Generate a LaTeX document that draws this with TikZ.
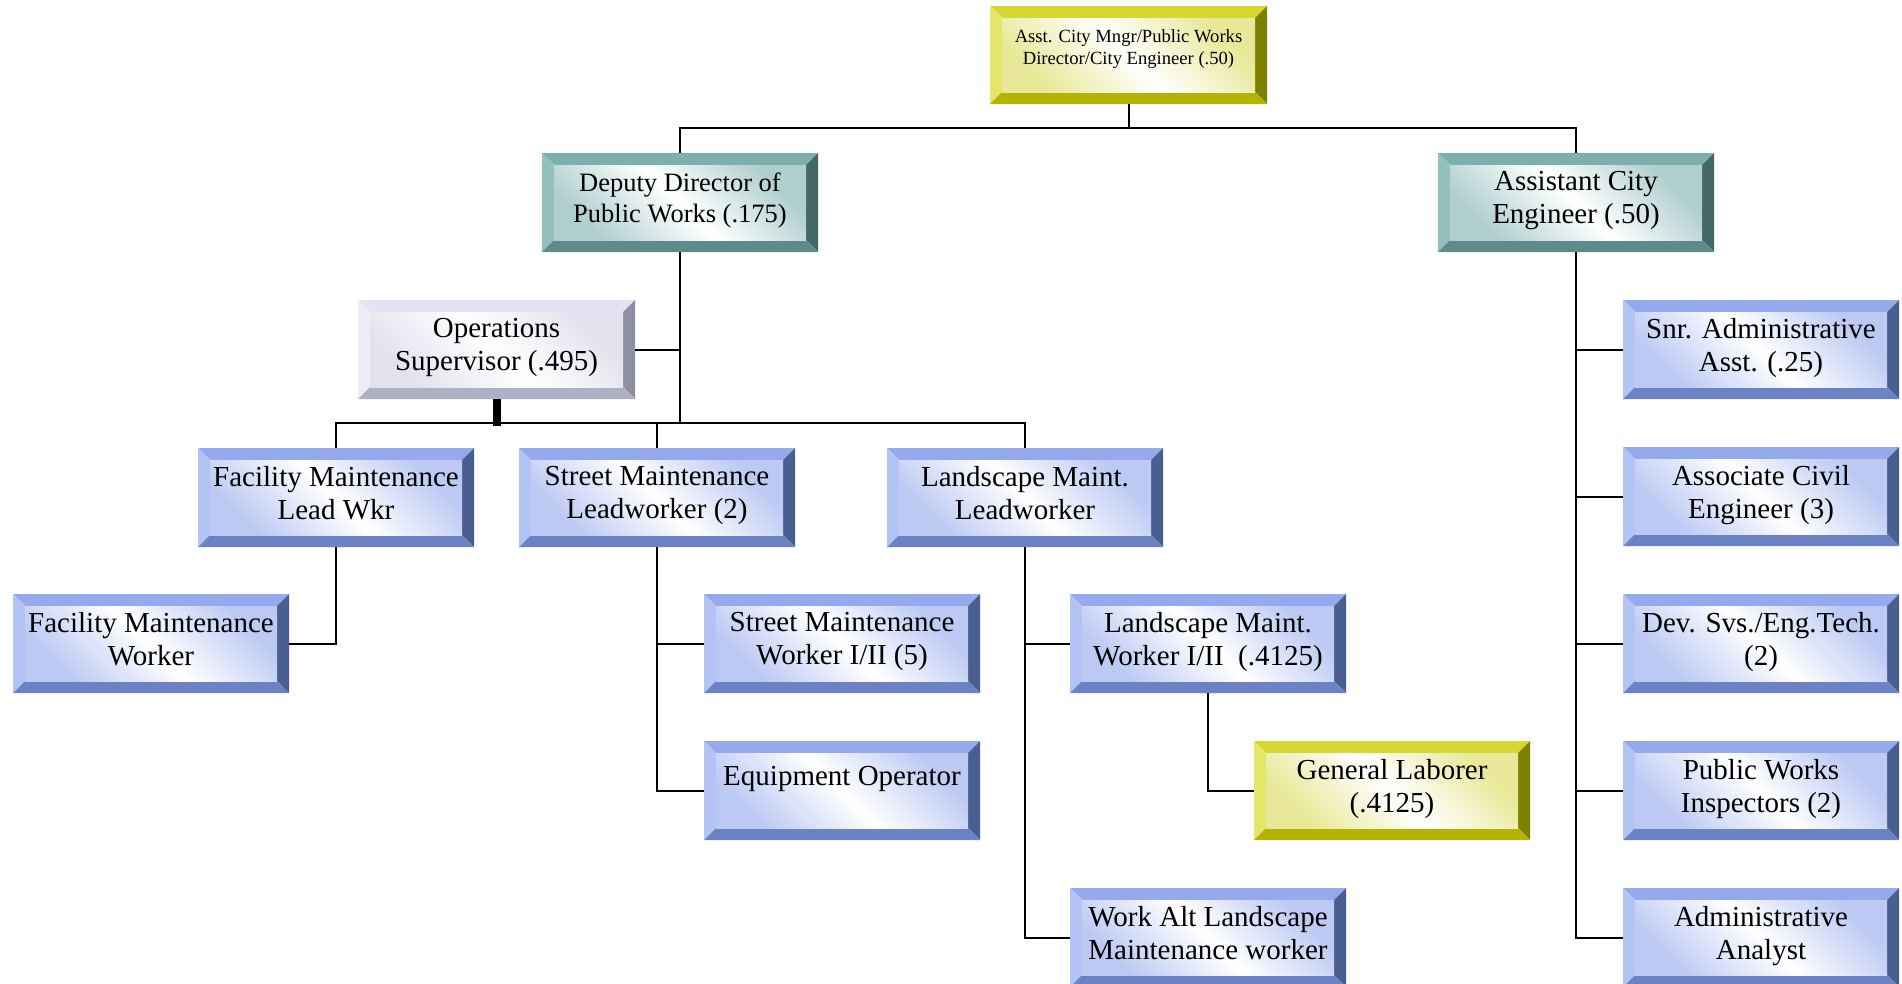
\documentclass[tikz,border=0pt]{standalone}
\usepackage{fontspec}
\setmainfont{Liberation Serif}
\definecolor{bT}{HTML}{94AAEC}
\definecolor{bL}{HTML}{B3C3F3}
\definecolor{bR}{HTML}{4B5E90}
\definecolor{bB}{HTML}{6B82C4}
\definecolor{bI}{HTML}{BCC9F3}
\definecolor{tT}{HTML}{7DAFAE}
\definecolor{tL}{HTML}{93C0BF}
\definecolor{tR}{HTML}{426766}
\definecolor{tB}{HTML}{5C8B8A}
\definecolor{tI}{HTML}{B0CECE}
\definecolor{yT}{HTML}{D7D733}
\definecolor{yL}{HTML}{E5E56A}
\definecolor{yR}{HTML}{808000}
\definecolor{yB}{HTML}{B3B300}
\definecolor{yI}{HTML}{E8E898}
\definecolor{lT}{HTML}{E3E3F3}
\definecolor{lL}{HTML}{EDEDF7}
\definecolor{lR}{HTML}{8F8FA3}
\definecolor{lB}{HTML}{B0B0C4}
\definecolor{lI}{HTML}{E2E2EE}
\tikzset{
  conn/.style={draw=black, line width=2pt},
  bevel/.style n args={5}{rectangle, minimum width=276pt, minimum height=99pt,
    inner sep=0pt, outer sep=0pt, anchor=north west, align=center,
    font=\fontsize{29}{33}\selectfont,
    execute at begin node=\rule{0pt}{29pt}, execute at end node=\strut,
    path picture={
      \coordinate (bvNW) at (path picture bounding box.north west);
      \coordinate (bvNE) at (path picture bounding box.north east);
      \coordinate (bvSE) at (path picture bounding box.south east);
      \coordinate (bvSW) at (path picture bounding box.south west);
      \coordinate (ivNW) at ([shift={(12,12)}]bvNW);
      \coordinate (ivNE) at ([shift={(-12,12)}]bvNE);
      \coordinate (ivSE) at ([shift={(-12,-12)}]bvSE);
      \coordinate (ivSW) at ([shift={(12,-12)}]bvSW);
      \fill[#1] (bvNW) -- (bvNE) -- (ivNE) -- (ivNW) -- cycle;
      \fill[#2] (bvNW) -- (ivNW) -- (ivSW) -- (bvSW) -- cycle;
      \fill[#3] (bvNE) -- (bvSE) -- (ivSE) -- (ivNE) -- cycle;
      \fill[#4] (bvSW) -- (ivSW) -- (ivSE) -- (bvSE) -- cycle;
      \shade[top color=#5, bottom color=#5, middle color=white, shading angle=-45] (ivNW) rectangle (ivSE);
    }},
  bluebox/.style={bevel={bT}{bL}{bR}{bB}{bI}},
  tealbox/.style={bevel={tT}{tL}{tR}{tB}{tI}},
  yellowbox/.style={bevel={yT}{yL}{yR}{yB}{yI}},
  lavbox/.style={bevel={lT}{lL}{lR}{lB}{lI}}
}
\begin{document}
\begin{tikzpicture}[x=1pt,y=-1pt]
\useasboundingbox (0,0) rectangle (1902,983);
\clip (0,0) rectangle (1902,983);
\fill[white] (0,0) rectangle (1902,983);
\coordinate (busA) at (0,128);
\coordinate (busB) at (0,423);

% boxes
\node[yellowbox, minimum width=277pt, minimum height=98pt, font=\fontsize{18.6}{21.5}\selectfont,
  execute at begin node=\strut] (top) at (990,6)
  {Asst. City Mngr/Public Works\\Director/City Engineer (.50)\rule[-16pt]{0pt}{16pt}};
\node[tealbox, font=\fontsize{26.5}{31}\selectfont] (dep) at (542,153) {Deputy Director of\\Public Works (.175)};
\node[tealbox] (ace) at (1438,153) {Assistant City\\Engineer (.50)};
\node[lavbox, minimum width=277pt] (ops) at (358,300) {Operations\\Supervisor (.495)};
\node[bluebox] (fml) at (198,448) {Facility Maintenance\\Lead Wkr};
\node[bluebox] (sml) at (519,448) {Street Maintenance\\Leadworker (2)};
\node[bluebox] (lml) at (887,448) {Landscape Maint.\\Leadworker};
\node[bluebox] (fmw) at (13,594) {Facility Maintenance\\Worker};
\node[bluebox] (smw) at (704,594) {Street Maintenance\\Worker I/II (5)};
\node[bluebox] (lmw) at (1070,594) {Landscape Maint.\\Worker I/II~ (.4125)};
\node[bluebox] (eqo) at (704,741) {Equipment Operator\rule[-40pt]{0pt}{40pt}};
\node[yellowbox] (gl) at (1254,741) {General Laborer\\(.4125)};
\node[bluebox] (wal) at (1070,888) {Work Alt Landscape\\Maintenance worker};
\node[bluebox] (r1) at (1623,300) {Snr. Administrative\\Asst. (.25)};
\node[bluebox] (r2) at (1623,447) {Associate Civil\\Engineer (3)};
\node[bluebox] (r3) at (1623,594) {Dev. Svs./Eng.Tech.\\(2)};
\node[bluebox] (r4) at (1623,741) {Public Works\\Inspectors (2)};
\node[bluebox] (r5) at (1623,888) {Administrative\\Analyst};

% connectors
\draw[conn] (top.south) -- (top.south |- busA);
\draw[conn] (dep.north) |- (ace.north |- busA) -- (ace.north);
\draw[conn] (dep.south) -- (dep.south |- busB);
\draw[conn] (ops.east) -- (ops.east -| dep.south);
\draw[draw=black, line width=8pt] (ops.south) -- ([yshift=-3pt]ops.south |- busB);
\draw[conn] (fml.north) |- (lml.north |- busB) -- (lml.north);
\draw[conn] (sml.north) -- (sml.north |- busB);
\draw[conn] (fml.south) |- (fmw.east);
\draw[conn] (sml.south) |- (eqo.west);
\draw[conn] (smw.west) -- (smw.west -| sml.south);
\draw[conn] (lml.south) |- (wal.west);
\draw[conn] (lmw.west) -- (lmw.west -| lml.south);
\draw[conn] (lmw.south) |- (gl.west);
\draw[conn] (ace.south) |- (r5.west);
\draw[conn] (r1.west) -- (r1.west -| ace.south);
\draw[conn] (r2.west) -- (r2.west -| ace.south);
\draw[conn] (r3.west) -- (r3.west -| ace.south);
\draw[conn] (r4.west) -- (r4.west -| ace.south);
\end{tikzpicture}
\end{document}
